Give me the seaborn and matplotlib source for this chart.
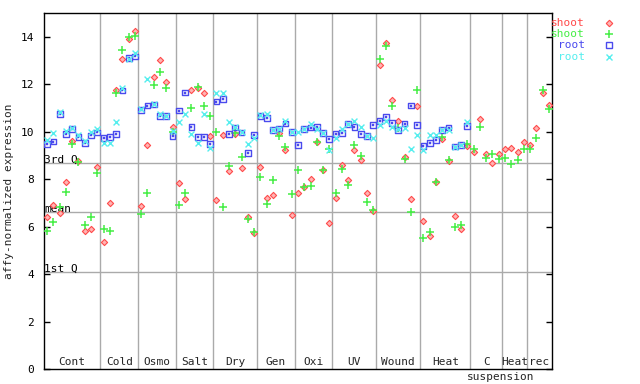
import numpy as np
import pandas as pd
import matplotlib
matplotlib.use("Agg")
import matplotlib.pyplot as plt
from matplotlib.lines import Line2D
import seaborn as sns

# ---- data ----
group_labels = ["Cont", "Cold", "Osmo", "Salt", "Dry", "Gen", "Oxi", "UV",
                "Wound", "Heat", "C", "Heat", "rec"]
group_sublabels = ["", "", "", "", "", "", "", "", "", "", "suspension", "", ""]
group_sizes = [9, 6, 6, 6, 7, 6, 6, 7, 7, 8, 5, 4, 4]

ref_lines = [8.70, 6.62, 4.08]
ref_labels = ["3rd Q", "mean", "1st Q"]

series_names = ["shoot", "shoot", "root", "root"]

shoot_red = [6.41, 6.90, 6.58, 7.86, 9.62, 8.76, 5.82, 5.90, 8.52,
             5.35, 7.01, 11.74, 13.08, 13.90, 14.24,
             6.87, 9.45, 12.29, 13.00, 12.08, 10.21,
             7.85, 7.17, 11.74, 11.86, 11.65, 9.83,
             7.13, 9.87, 8.35, 9.90, 8.48, 6.41, 5.73,
             8.53, 7.21, 7.35, 9.95, 9.22, 6.49,
             7.42, 7.67, 8.01, 9.58, 8.39, 6.15,
             7.21, 8.58, 7.97, 9.24, 8.80, 7.42, 6.66,
             12.79, 13.72, 11.32, 10.46, 8.93, 7.17, 11.10,
             6.24, 5.59, 7.87, 9.70, 8.77, 6.45, 5.89, 9.41,
             9.15, 10.52, 9.04, 8.69, 9.04,
             9.28, 9.32, 9.15, 9.58,
             9.42, 10.17, 11.62, 11.14]

shoot_green = [5.82, 6.20, 6.83, 7.46, 9.49, 8.72, 6.07, 6.41, 8.27,
               5.90, 5.82, 11.65, 13.46, 13.97, 14.01,
               6.53, 7.42, 11.98, 12.51, 11.86, 10.00,
               6.92, 7.42, 11.01, 11.90, 11.10, 10.67,
               10.00, 6.83, 8.55, 9.95, 8.94, 6.32, 5.77,
               8.10, 6.96, 7.97, 9.83, 9.37, 7.38,
               8.39, 7.67, 7.73, 9.58, 8.39, 9.28,
               7.42, 8.44, 7.76, 9.45, 8.99, 7.04, 6.70,
               13.08, 13.59, 11.10, 10.15, 8.86, 6.62, 11.77,
               5.52, 5.77, 7.89, 9.79, 8.80, 5.99, 6.07, 9.49,
               9.29, 10.21, 8.90, 9.07, 8.86,
               8.90, 8.65, 8.82, 9.28,
               9.28, 9.72, 11.74, 10.97]

nan = np.nan
root_blue = [9.49, 9.58, 10.73, 9.89, 10.11, 9.77, 9.51, 9.84, 9.97,
             9.74, 9.79, 9.91, 11.74, 13.10, 13.17,
             10.90, 11.10, 11.15, 10.67, 10.67, 9.83,
             10.89, 11.65, 10.21, 9.79, 9.79, 9.49,
             11.27, 11.39, 9.91, 10.17, 9.97, 9.11, 9.87,
             10.66, 10.59, 10.08, 10.13, 10.34, 9.99,
             9.45, 10.10, 10.17, 10.21, 9.95, 9.70,
             9.91, 9.95, 10.31, 10.21, 9.91, 9.83, 10.29,
             10.46, 10.63, 10.38, 10.08, 10.34, 11.10, 10.29,
             9.41, 9.53, 9.66, 10.08, 10.17, 9.37, 9.45, 10.25,
             nan, nan, nan, nan, nan,
             nan, nan, nan, nan,
             nan, nan, nan, nan]

root_cyan = [9.65, 9.96, 10.84, 10.03, 10.15, 9.84, 9.60, 9.99, 10.10,
             9.53, 9.53, 10.42, 11.82, 13.05, 13.31,
             10.95, 12.20, 11.18, 10.76, 10.67, 10.03,
             10.42, 10.76, 9.91, 9.53, 10.76, 9.32,
             11.65, 11.65, 10.42, 10.20, 9.97, 9.49, 9.74,
             10.70, 10.76, 10.08, 10.13, 10.45, 10.00,
             9.99, 10.13, 10.34, 10.13, 9.95, 9.22,
             9.74, 10.13, 10.34, 10.43, 10.21, 9.83, 9.74,
             10.29, 10.46, 10.21, 10.13, 10.17, 9.28, 9.87,
             9.24, 9.87, 9.87, 10.08, 10.08, 9.37, 9.45, 10.42,
             nan, nan, nan, nan, nan,
             nan, nan, nan, nan,
             nan, nan, nan, nan]

# ---- styling ----
RED, RED_FILL = "#ff4a4a", "#ffb4b4"
GREEN = "#44ee44"
BLUE = "#4a4aee"
CYAN = "#55eeee"
GRID = "#aaaaaa"

sns.set_theme(style="white")
plt.rcParams["font.family"] = ["DejaVu Sans Mono"]
plt.rcParams["font.size"] = 8

n = len(shoot_red)
idx = np.arange(n)
df = pd.DataFrame({"idx": idx, "red": shoot_red, "green": shoot_green,
                   "blue": root_blue, "cyan": root_cyan})

fig = plt.figure(figsize=(6.4, 3.84), dpi=100)
ax = fig.add_axes([44 / 640, 15 / 384, 508 / 640, 356 / 384])
ax.set_xlim(-0.5, n - 0.5)
ax.set_ylim(0, 15)

# reference lines
for v, lab in zip(ref_lines, ref_labels):
    ax.axhline(v, color=GRID, lw=1.0, zorder=1)
    ax.text(-0.45, v - 0.08, lab, ha="left", va="bottom", fontsize=8,
            color="black", zorder=2)

# group separators and labels
bounds = np.cumsum(group_sizes)
starts = np.concatenate([[0], bounds[:-1]])
for b in bounds[:-1]:
    ax.axvline(b - 0.5, color=GRID, lw=1.0, zorder=1)
for s, e, lab, sub in zip(starts, bounds, group_labels, group_sublabels):
    c = (s + e - 1) / 2
    ax.text(c, 0.3, lab, ha="center", va="center", fontsize=8)
    if sub:
        ax.text(c + 2.3, -0.34, sub, ha="center", va="center", fontsize=8,
                clip_on=False)

# points
sns.scatterplot(data=df, x="idx", y="red", marker="D", s=10, color=RED_FILL,
                edgecolor=RED, linewidth=0.8, ax=ax, zorder=3)
sns.scatterplot(data=df, x="idx", y="green", marker="+", s=30, color=GREEN,
                linewidth=1.1, ax=ax, zorder=4)
sns.scatterplot(data=df, x="idx", y="blue", marker="s", s=17, color=BLUE,
                edgecolor=BLUE, linewidth=1.0, ax=ax, zorder=5)
ax.collections[-1].set_facecolor("none")
sns.scatterplot(data=df, x="idx", y="blue", marker="s", s=1.2, color=BLUE,
                edgecolor=BLUE, linewidth=0.3, ax=ax, zorder=5)
sns.scatterplot(data=df, x="idx", y="cyan", marker="x", s=18, color=CYAN,
                linewidth=1.0, ax=ax, zorder=6)

# axes cosmetics
ax.set_xlabel("")
ax.set_ylabel("affy-normalized expression", fontsize=8, labelpad=5)
ax.set_xticks([])
ax.set_yticks(np.arange(0, 15, 2))
ax.tick_params(axis="y", direction="in", length=4.5, width=1, left=True,
               right=True, pad=7, labelsize=8, colors="black")
for sp in ax.spines.values():
    sp.set_color("black")
    sp.set_linewidth(1)
    sp.set_visible(True)

# legend (outside right)
leg_y = [23, 34, 45, 57]
leg_colors = [RED, GREEN, BLUE, CYAN]
leg_markers = [dict(marker="D", ms=3.3, mfc=RED_FILL, mec=RED, mew=0.8),
               dict(marker="+", ms=5.5, mec=GREEN, mew=1.1),
               dict(marker="s", ms=4.2, mfc="none", mec=BLUE, mew=1.0),
               dict(marker="x", ms=4.2, mec=CYAN, mew=1.0)]
for name, yy, col, mk in zip(series_names, leg_y, leg_colors, leg_markers):
    fy = 1 - yy / 384
    fig.text(585 / 640, fy, name, color=col, ha="right", va="center",
             fontsize=8)
    fig.add_artist(Line2D([609 / 640], [fy], linestyle="none",
                          transform=fig.transFigure, **mk))

fig.savefig("out.png", dpi=100)
